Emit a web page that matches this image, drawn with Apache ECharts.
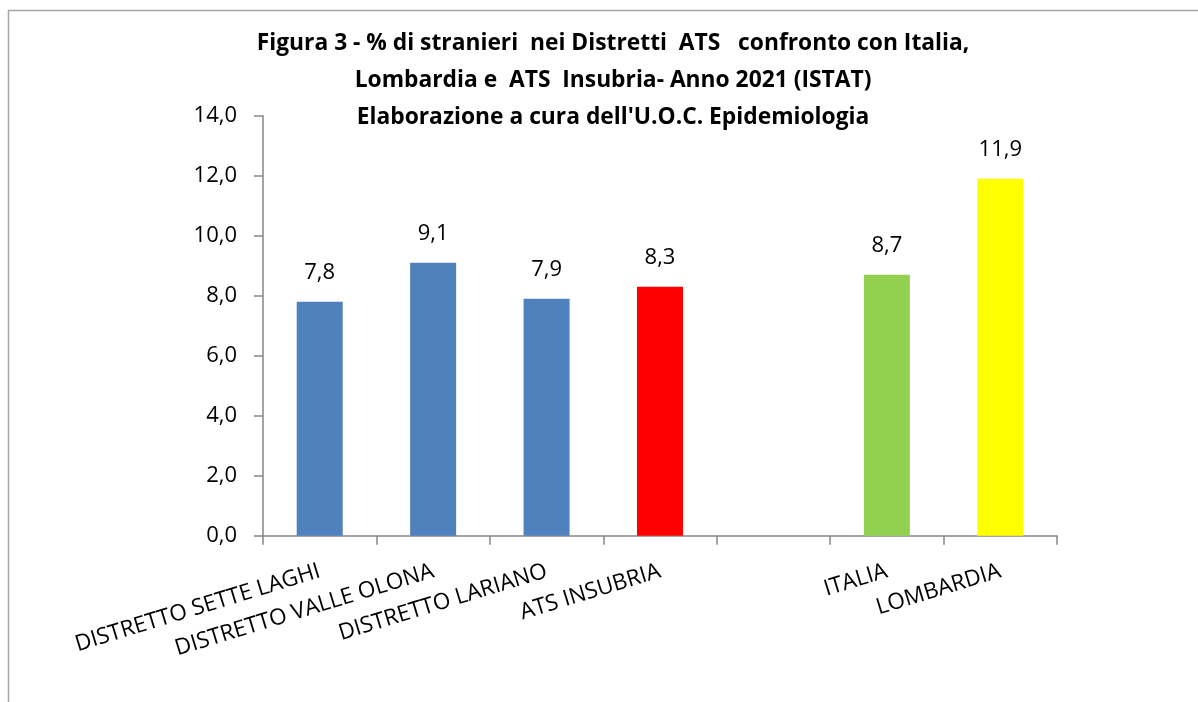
<!DOCTYPE html>
<html>
<head>
<meta charset="utf-8">
<script src="https://cdn.jsdelivr.net/npm/echarts@6/dist/echarts.min.js"></script>
<style>
  html, body { margin: 0; padding: 0; background: #fff; }
  #chart { width: 1198px; height: 702px; }
</style>
</head>
<body>
<div id="chart"></div>
<script>
// dati
const categories = ['DISTRETTO SETTE LAGHI', 'DISTRETTO VALLE OLONA', 'DISTRETTO LARIANO', 'ATS INSUBRIA', '', 'ITALIA', 'LOMBARDIA']
const values = [7.8, 9.1, 7.9, 8.3, null, 8.7, 11.9]
const yTicks = [0, 2, 4, 6, 8, 10, 12, 14]
const titleLines = [
  'Figura 3 - % di stranieri  nei Distretti  ATS   confronto con Italia,',
  'Lombardia e  ATS  Insubria- Anno 2021 (ISTAT)',
  "Elaborazione a cura dell'U.O.C. Epidemiologia"
]

const barColors = ['#4F81BD', '#4F81BD', '#4F81BD', '#FF0000', '#4F81BD', '#92D050', '#FFFF00']
const font = '"Open Sans", "Noto Sans", sans-serif'
const fmt = v => v.toFixed(1).replace('.', ',')

const chart = echarts.init(document.getElementById('chart'))
chart.setOption({
  animation: false,
  backgroundColor: '#fff',
  // cornice del grafico
  graphic: [{
    type: 'rect',
    shape: { x: 8.5, y: 10.5, width: 1400, height: 1000 },
    style: { fill: 'none', stroke: '#A6A6A6', lineWidth: 1.5 },
    silent: true
  }],
  title: {
    text: titleLines.join('\n'),
    left: 608,
    top: 20,
    textAlign: 'center',
    textStyle: {
      fontFamily: font,
      fontWeight: 'bold',
      fontSize: 22.8,
      lineHeight: 37,
      color: '#000'
    }
  },
  grid: {
    left: 263,
    right: 141,
    top: 115.7,
    bottom: 166.3,
    containLabel: false
  },
  xAxis: {
    type: 'category',
    data: categories,
    axisLine: { lineStyle: { color: '#868686', width: 1.5 } },
    axisTick: { show: true, length: 9, lineStyle: { color: '#868686', width: 1.5 } },
    axisLabel: {
      rotate: 17,
      margin: 35,
      interval: 0,
      fontFamily: font,
      fontSize: 22.5,
      color: '#000'
    }
  },
  yAxis: {
    type: 'value',
    min: yTicks[0],
    max: yTicks[yTicks.length - 1],
    interval: 2,
    axisLine: { show: true, lineStyle: { color: '#868686', width: 1.5 } },
    axisTick: { show: true, length: 9, lineStyle: { color: '#868686', width: 1.5 } },
    splitLine: { show: false },
    axisLabel: {
      margin: 26,
      fontFamily: font,
      fontSize: 22,
      color: '#000',
      formatter: fmt
    }
  },
  series: [{
    type: 'bar',
    barWidth: 46,
    data: values.map((v, i) => ({ value: v, itemStyle: { color: barColors[i] } })),
    label: {
      show: true,
      position: 'top',
      distance: 18,
      fontFamily: font,
      fontSize: 22,
      color: '#000',
      formatter: p => (p.value == null ? '' : fmt(p.value))
    }
  }]
})
</script>
</body>
</html>
